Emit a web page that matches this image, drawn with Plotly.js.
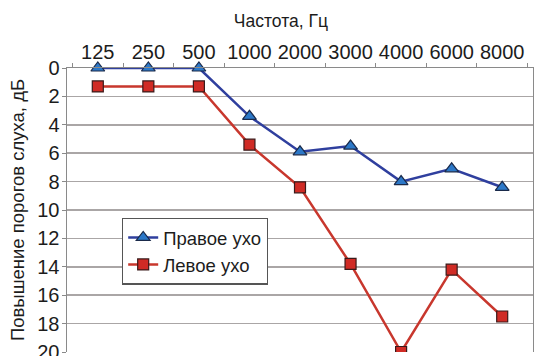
<!DOCTYPE html>
<html><head><meta charset="utf-8">
<script src="https://cdn.plot.ly/plotly-3.0.1.min.js"></script>
<style>body{margin:0;background:#fff}#c{width:534px;height:356px}</style>
</head><body><div id="c"></div>
<script>
var categories = ['125','250','500','1000','2000','3000','4000','6000','8000'];
var rightEar = [0, 0, 0, 3.4, 5.9, 5.5, 8.0, 7.1, 8.4];
var leftEar = [1.3, 1.3, 1.3, 5.4, 8.4, 13.8, 20, 14.2, 17.5];
var yTicks = [0,2,4,6,8,10,12,14,16,18,20];
var seriesNames = ['Правое ухо', 'Левое ухо'];

var font = 'Liberation Sans, Arial, sans-serif';
var txt = '#1c1c1c';
var traces = [
  {x: categories, y: rightEar, name: seriesNames[0], type: 'scatter', mode: 'lines+markers',
   cliponaxis: false,
   line: {color: '#2f3f9e', width: 2.5},
   marker: {symbol: 'triangle-up', size: 12, color: '#2c78c8', line: {color: '#1a2a4a', width: 1.2}}},
  {x: categories, y: leftEar, name: seriesNames[1], type: 'scatter', mode: 'lines+markers',
   line: {color: '#c8372d', width: 2.5},
   marker: {symbol: 'square', size: 11, color: '#d02b25', line: {color: '#3a1a1a', width: 1.2}}}
];
var layout = {
  width: 534, height: 356,
  margin: {l: 67, r: 1, t: 68, b: 4, autoexpand: false},
  paper_bgcolor: '#fff', plot_bgcolor: '#fff',
  font: {family: font, color: txt, size: 18},
  title: {text: 'Частота, Гц', font: {size: 17.5, family: font, color: txt}, x: 0.526, xref: 'container', xanchor: 'center', y: 0.941, yref: 'container', yanchor: 'middle'},
  xaxis: {type: 'category', side: 'top', categoryorder: 'array', categoryarray: categories, automargin: false,
    showgrid: false, showline: true, linecolor: '#8a8a8a', linewidth: 1.5,
    ticks: 'outside', tickson: 'boundaries', ticklen: 4, tickcolor: '#8a8a8a', tickangle: 0,
    tickfont: {size: 20, family: font, color: txt}},
  yaxis: {range: [20, 0], tickvals: yTicks, showgrid: true, gridcolor: '#aaa6a6', gridwidth: 1.5, automargin: false,
    showline: true, mirror: true, linecolor: '#8a8a8a', linewidth: 1.5, ticks: 'outside', ticklen: 4, tickcolor: '#8a8a8a',
    zeroline: false, ticklabeloverflow: 'allow', ticklabelstandoff: -2, tickfont: {size: 20, family: font, color: txt},
    title: {text: 'Повышение порогов слуха, дБ', font: {size: 18.5, family: font, color: txt}, standoff: 8}},
  legend: {x: 0.118, y: 0.473, xanchor: 'left', yanchor: 'top', bordercolor: '#555', borderwidth: 1.2,
    bgcolor: '#fff', font: {size: 18.5, family: font, color: txt}, tracegroupgap: 0},
  showlegend: true
};
Plotly.newPlot('c', traces, layout, {displayModeBar: false, staticPlot: true});
</script></body></html>
